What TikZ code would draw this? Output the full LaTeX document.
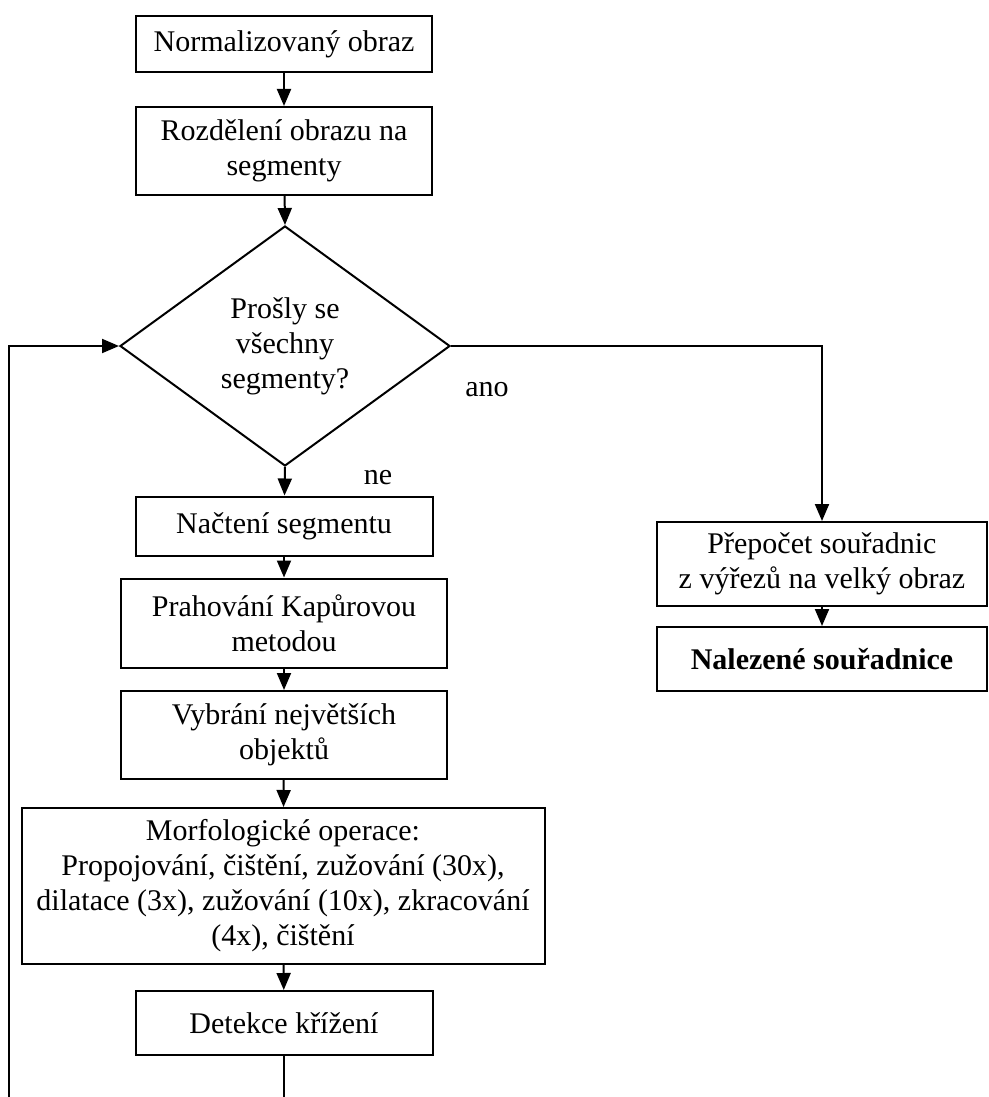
\documentclass[tikz,border=0pt]{standalone}
\usepackage{fontspec}
\setmainfont{Liberation Serif}
\usetikzlibrary{arrows.meta,shapes.geometric}
\tikzset{
  stepbox/.style={draw,rectangle,align=center,inner sep=2pt,line width=2pt},
  decision/.style={draw,diamond,align=center,inner sep=0pt,line width=2pt,
    minimum width=330pt,minimum height=240pt},
  lbl/.style={inner sep=0pt},
  arr/.style={-{Triangle[length=17pt,width=14pt]},line width=2pt},
  link/.style={line width=2pt},
}
\begin{document}
\begin{tikzpicture}[x=1pt,y=-1pt,font=\fontsize{30}{35}\selectfont]
  \useasboundingbox (0,0) rectangle (988,1097);
  % main column
  \node[stepbox,minimum width=296pt,minimum height=56pt] (norm) at (284,44) {Normalizovaný obraz};
  \node[stepbox,minimum width=296pt,minimum height=88pt] (rozd) at (284,151) {Rozdělení obrazu na\\segmenty};
  \node[decision] (dec) at (285,346) {Prošly se\\všechny\\segmenty?};
  \node[stepbox,minimum width=297pt,minimum height=59pt] (nacteni) at (284,526) {Načtení segmentu};
  \node[stepbox,minimum width=326pt,minimum height=89pt] (prah) at (284,623) {Prahování Kapůrovou\\metodou};
  \node[stepbox,minimum width=326pt,minimum height=88pt] (vybr) at (284,735) {Vybrání největších\\objektů};
  \node[stepbox,minimum width=523pt,minimum height=156pt] (morf) at (283,886)
    {Morfologické operace:\\Propojování, čištění, zužování (30x),\\dilatace (3x), zužování (10x), zkracování\\(4x), čištění};
  \node[stepbox,minimum width=297pt,minimum height=64pt] (detek) at (284,1023) {Detekce křížení};
  % right branch
  \node[stepbox,minimum width=330pt,minimum height=84pt] (prepocet) at (822,564) {Přepočet souřadnic\\z výřezů na velký obraz};
  \node[stepbox,minimum width=330pt,minimum height=64pt] (nalez) at (822,659) {\bfseries Nalezené souřadnice};
  % labels
  \node[lbl] (ano) at (487,390) {ano};
  \node[lbl] (ne) at (378,478) {ne};
  % connectors
  \draw[arr] (norm) -- (rozd);
  \draw[arr] (rozd) -- (dec.north);
  \draw[arr] (dec.south) -- (nacteni);
  \draw[arr] (nacteni) -- (prah);
  \draw[arr] (prah) -- (vybr);
  \draw[arr] (vybr) -- (morf);
  \draw[arr] (morf) -- (detek);
  \coordinate (turn) at (822,346);
  \draw[arr] (dec.east) -- (turn) -- (prepocet.north);
  \draw[arr] (prepocet) -- (nalez);
  % loop back
  \coordinate (loopbot) at (9,1097);
  \coordinate (looptop) at (9,346);
  \coordinate (detbot) at (284,1097);
  \draw[link] (detek) -- (detbot);
  \draw[arr] (loopbot) -- (looptop) -- (dec.west);
\end{tikzpicture}
\end{document}
